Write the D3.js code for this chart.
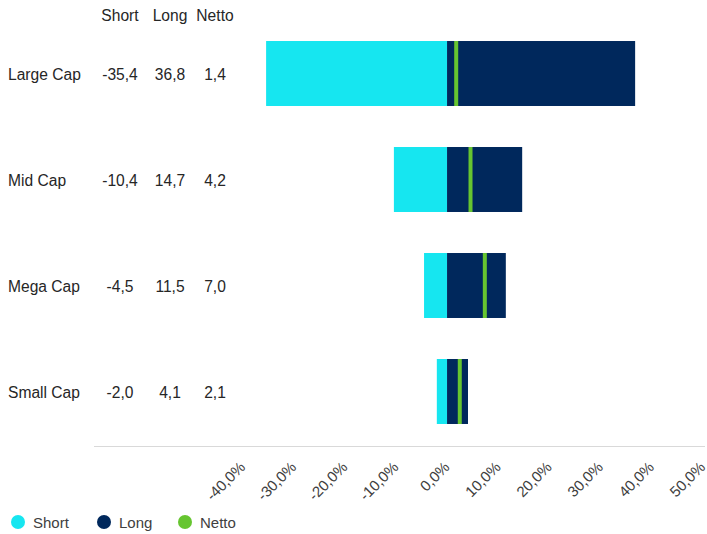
<!doctype html>
<html lang="de">
<head>
<meta charset="utf-8">
<title>Short / Long / Netto</title>
<style>
  body { margin: 0; background: #fff; font-family: Arial, "Liberation Sans", sans-serif; }
  svg text { fill: #262626; font-size: 15.6px; }
  .legend text { fill: #404040; font-size: 15px; }
</style>
</head>
<body>
<script src="https://cdnjs.cloudflare.com/ajax/libs/d3/7.8.5/d3.min.js"></script>
<script>
var categories = ["Large Cap", "Mid Cap", "Mega Cap", "Small Cap"];
var shortValues = [-35.4, -10.4, -4.5, -2.0];
var longValues = [36.8, 14.7, 11.5, 4.1];
var nettoValues = [1.4, 4.2, 7.0, 2.1];
var tickValues = [-40, -30, -20, -10, 0, 10, 20, 30, 40, 50];
var seriesNames = ["Short", "Long", "Netto"];
var colors = { Short: "#16e6f0", Long: "#00285c", Netto: "#66c530" };

var width = 707, height = 534;
var locale = d3.formatLocale({ decimal: ",", thousands: ".", grouping: [3], currency: ["", " €"], minus: "-" });
var fmt = locale.format(".1f");

var svg = d3.select("body").append("svg")
  .attr("width", width)
  .attr("height", height);

var x = d3.scaleLinear().domain([-40, 50]).range([242.6, 702.6]);
var y = d3.scaleBand().domain(categories).range([20.5, 444.5])
  .paddingInner(0.387).paddingOuter(0.1935);

// header of the table
var cols = [{ name: "Short", cx: 120, vals: shortValues },
            { name: "Long", cx: 170, vals: longValues },
            { name: "Netto", cx: 215, vals: nettoValues }];
svg.selectAll("text.head")
  .data(cols)
  .enter().append("text")
  .attr("class", "head")
  .attr("x", function(d) { return d.cx; })
  .attr("y", 21)
  .attr("text-anchor", "middle")
  .text(function(d) { return d.name; });

var rows = svg.selectAll("g.row")
  .data(categories)
  .enter().append("g")
  .attr("class", "row");

rows.append("text")
  .attr("x", 8)
  .attr("y", function(d) { return y(d) + y.bandwidth() / 2 + 6; })
  .text(function(d) { return d; });

cols.forEach(function(c) {
  rows.append("text")
    .attr("x", c.cx)
    .attr("y", function(d) { return y(d) + y.bandwidth() / 2 + 6; })
    .attr("text-anchor", "middle")
    .text(function(d, i) { return fmt(c.vals[i]); });
});

// bars
rows.append("rect")
  .attr("x", function(d, i) { return x(shortValues[i]); })
  .attr("y", function(d) { return y(d); })
  .attr("width", function(d, i) { return x(0) - x(shortValues[i]); })
  .attr("height", y.bandwidth())
  .attr("fill", colors.Short);

rows.append("rect")
  .attr("x", x(0))
  .attr("y", function(d) { return y(d); })
  .attr("width", function(d, i) { return x(longValues[i]) - x(0); })
  .attr("height", y.bandwidth())
  .attr("fill", colors.Long);

rows.append("rect")
  .attr("x", function(d, i) { return x(nettoValues[i]); })
  .attr("y", function(d) { return y(d); })
  .attr("width", 4)
  .attr("height", y.bandwidth())
  .attr("fill", colors.Netto);

// axis
svg.append("line")
  .attr("x1", 94).attr("x2", 705)
  .attr("y1", 446.5).attr("y2", 446.5)
  .attr("stroke", "#d9d9d9");

var xAxis = d3.axisBottom(x).tickValues(tickValues).tickSize(0)
  .tickFormat(function(d) { return fmt(d) + "%"; });
var ax = svg.append("g")
  .attr("class", "axis")
  .attr("transform", "translate(0,446)")
  .call(xAxis);
ax.select(".domain").remove();
ax.selectAll("text")
  .attr("text-anchor", "end")
  .attr("dy", null)
  .attr("y", 0)
  .attr("transform", "translate(3,22) rotate(-45)")
  .style("font-size", "15px")
  .style("font-family", "Arial, 'Liberation Sans', sans-serif")
  .style("fill", "#404040");

// legend
var legX = [18, 104, 185];
var leg = svg.selectAll("g.legend")
  .data(seriesNames)
  .enter().append("g")
  .attr("class", "legend")
  .attr("transform", function(d, i) { return "translate(" + legX[i] + ",522)"; });
leg.append("circle")
  .attr("r", 7)
  .attr("fill", function(d) { return colors[d]; });
leg.append("text")
  .attr("x", 15)
  .attr("y", 5.5)
  .text(function(d) { return d; });
</script>
</body>
</html>
